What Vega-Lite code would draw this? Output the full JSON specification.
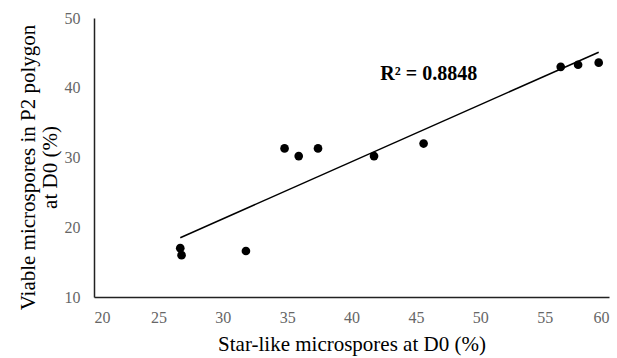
{
  "$schema": "https://vega.github.io/schema/vega-lite/v6.json",
  "width": 515,
  "height": 279,
  "autosize": {"type": "none"},
  "padding": {"left": 94, "top": 18, "right": 8, "bottom": 61},
  "background": "white",
  "config": {
    "view": {"stroke": null},
    "font": "Liberation Serif"
  },
  "datasets": {
    "pts": [
      {"x": 26.7, "y": 17.0},
      {"x": 26.8, "y": 16.0},
      {"x": 31.8, "y": 16.6},
      {"x": 34.8, "y": 31.3},
      {"x": 35.9, "y": 30.2},
      {"x": 37.4, "y": 31.3},
      {"x": 41.75, "y": 30.2},
      {"x": 45.6, "y": 32.0},
      {"x": 56.25, "y": 43.0},
      {"x": 57.6, "y": 43.3},
      {"x": 59.2, "y": 43.6}
    ],
    "lab": [{"x": 46.0, "y": 42.0, "t": "R² = 0.8848"}]
  },
  "encoding": {
    "x": {
      "field": "x", "type": "quantitative",
      "scale": {"domain": [20, 60], "nice": false, "zero": false},
      "axis": {
        "title": "Star-like microspores at D0 (%)",
        "values": [20, 25, 30, 35, 40, 45, 50, 55, 60],
        "grid": false, "ticks": false,
        "domainColor": "#222222", "domainWidth": 1.5,
        "labelColor": "#666666", "labelFontSize": 16, "labelPadding": 12,
        "labelFont": "Liberation Serif",
        "titleFont": "Liberation Serif", "titleFontSize": 21, "titleFontWeight": "normal",
        "titleColor": "#000000", "titlePadding": 8
      }
    },
    "y": {
      "field": "y", "type": "quantitative",
      "scale": {"domain": [10, 50], "nice": false, "zero": false},
      "axis": {
        "title": ["Viable microspores in P2 polygon", "at D0 (%)"],
        "values": [10, 20, 30, 40, 50],
        "grid": false, "ticks": false,
        "domainColor": "#222222", "domainWidth": 1.5,
        "labelColor": "#666666", "labelFontSize": 16, "labelPadding": 14,
        "labelFont": "Liberation Serif",
        "titleFont": "Liberation Serif", "titleFontSize": 21, "titleFontWeight": "normal",
        "titleColor": "#000000", "titlePadding": 4, "titleLineHeight": 22,
        "titleY": 149
      }
    }
  },
  "layer": [
    {
      "data": {"name": "pts"},
      "mark": {"type": "circle", "size": 75, "color": "#000000", "opacity": 1}
    },
    {
      "data": {"name": "pts"},
      "transform": [{"regression": "y", "on": "x", "extent": [26.7, 59.2]}],
      "mark": {"type": "line", "color": "#000000", "strokeWidth": 1.5}
    },
    {
      "data": {"name": "lab"},
      "mark": {"type": "text", "font": "Liberation Serif", "fontSize": 20, "fontWeight": "bold", "color": "#000000", "align": "center", "baseline": "middle"},
      "encoding": {"text": {"field": "t"}}
    }
  ]
}
